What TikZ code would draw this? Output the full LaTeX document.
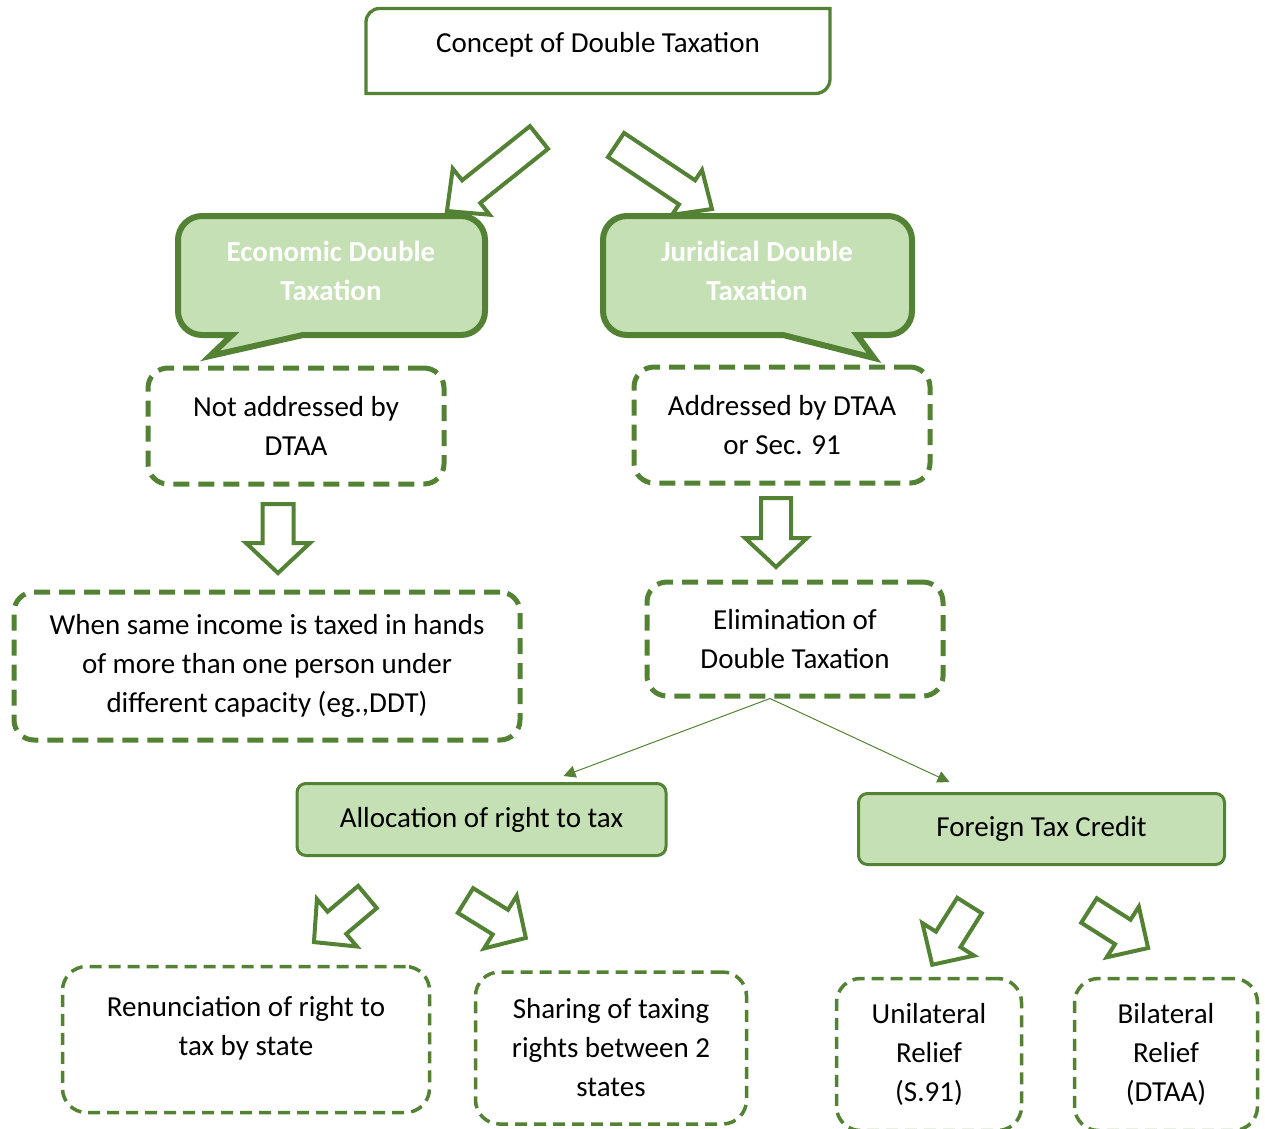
\documentclass[tikz,border=0pt]{standalone}
\usepackage{fontspec}
\setmainfont{Carlito}
\usetikzlibrary{arrows.meta,calc}

\definecolor{gline}{HTML}{548235}
\definecolor{gfill}{HTML}{C5E0B4}

\tikzset{
  txt/.style={font=\fontsize{29}{39}\selectfont, text=black, align=center},
  dbox/.style={txt, draw=gline, line width=5pt, dash pattern=on 16pt off 9pt,
               rounded corners=20pt, inner sep=0pt},
  sbox/.style={txt, draw=gline, line width=3.5pt, dash pattern=on 12pt off 7pt,
               rounded corners=24pt, inner sep=0pt},
  fbox/.style={txt, draw=gline, fill=gfill, line width=3pt, rounded corners=9pt,
               inner sep=0pt},
  callout/.style={draw=gline, fill=gfill, line width=6pt, line join=miter},
  ctext/.style={font=\fontsize{29}{39}\selectfont\bfseries, text=white, align=center},
  blk/.style={draw=gline, fill=white, line width=4pt, line join=miter},
  link/.style={draw=gline, line width=1pt, -{Triangle[length=12pt,width=12pt]}},
  % outlined block arrow: length / shaft width / head width / head length
  pics/barrow/.style args={#1/#2/#3/#4}{code={
    \path[blk] (0,-#2/2) -- (#1-#4,-#2/2) -- (#1-#4,-#3/2) -- (#1,0)
      -- (#1-#4,#3/2) -- (#1-#4,#2/2) -- (0,#2/2) -- cycle;
  }}
}

\begin{document}
\begin{tikzpicture}[x=1pt,y=1pt]
\useasboundingbox (0,0) rectangle (1265,-1128);

% title box with two rounded corners
\draw[gline, line width=3.3pt] (366,-93.5) -- (366,-22) arc[start angle=180,end angle=90,radius=13.5]
  -- (830,-8.5) -- (830,-79) arc[start angle=0,end angle=-90,radius=14.5] -- cycle;
\node[txt] (concept) at (598,-45) {Concept of Double Taxation};

% split arrows
\pic[rotate=218.6] at (539,-137.5) {barrow=117.8/29/59/31};
\pic[rotate=-33.7] at (616,-145) {barrow=115.4/29/54/30};

% speech-bubble headings
\path[callout] (202,-216) -- (461,-216) arc[start angle=90,end angle=0,radius=24]
  -- (485,-311) arc[start angle=0,end angle=-90,radius=24]
  -- (303,-335) -- (210,-356) -- (232,-335) -- (202,-335)
  arc[start angle=270,end angle=180,radius=24] -- (178,-240)
  arc[start angle=180,end angle=90,radius=24] -- cycle;
\node[ctext] (econ) at (331,-271) {Economic Double\\Taxation};

\path[callout] (627,-216) -- (888,-216) arc[start angle=90,end angle=0,radius=24]
  -- (912,-311) arc[start angle=0,end angle=-90,radius=24]
  -- (857,-335) -- (874,-358) -- (783,-335) -- (627,-335)
  arc[start angle=270,end angle=180,radius=24] -- (603,-240)
  arc[start angle=180,end angle=90,radius=24] -- cycle;
\node[ctext] (jur) at (757,-271) {Juridical Double\\Taxation};

% second level
\node[dbox, minimum width=296pt, minimum height=116pt] (nad) at (296,-426)
  {Not addressed by\\DTAA};
\node[dbox, minimum width=296pt, minimum height=116pt] (ad) at (782,-425)
  {Addressed by DTAA\\or Sec. 91};

\pic[rotate=-90] at (278,-504) {barrow=69/31/64/30};
\pic[rotate=-90] at (776,-498) {barrow=69/30/62/29};

\node[dbox, minimum width=506pt, minimum height=148pt] (same) at (267,-666)
  {When same income is taxed in hands\\of more than one person under\\different capacity (eg.,DDT)};
\node[dbox, minimum width=296pt, minimum height=114pt] (elim) at (795,-639)
  {Elimination of\\Double Taxation};

% methods of elimination
\node[fbox, minimum width=369pt, minimum height=72pt] (alloc) at (481.5,-819.5)
  {Allocation of right to tax};
\node[fbox, minimum width=366pt, minimum height=71pt] (ftc) at (1041.5,-829)
  {Foreign Tax Credit};

\draw[link] ($(elim.south)+(-25,0)$) -- ($(alloc.north)+(82,6)$);
\draw[link] ($(elim.south)+(-25,0)$) -- ($(ftc.north)+(-92,10)$);

% small arrows to the leaves
\pic[rotate=220.1] at (367.5,-897) {barrow=70/29/62/30};
\pic[rotate=-31.8] at (465.5,-900.5) {barrow=71/29/62/30};
\pic[rotate=237.8] at (969.5,-905.5) {barrow=70/29/61/30};
\pic[rotate=-32.4] at (1089,-910.5) {barrow=70/29/60/30};

% leaves
\node[sbox, minimum width=367pt, minimum height=146pt] (ren) at (246,-1039.5) {};
\node[txt] (rentext) at (246,-1028) {Renunciation of right to\\tax by state};
\node[sbox, minimum width=271pt, minimum height=152pt] (share) at (611,-1048)
  {Sharing of taxing\\rights between 2\\states};
\node[sbox, minimum width=185pt, minimum height=152pt] (uni) at (929,-1054.5)
  {Unilateral\\Relief\\(S.91)};
\node[sbox, minimum width=183pt, minimum height=152pt] (bi) at (1166,-1054.5)
  {Bilateral\\Relief\\(DTAA)};
\end{tikzpicture}
\end{document}
